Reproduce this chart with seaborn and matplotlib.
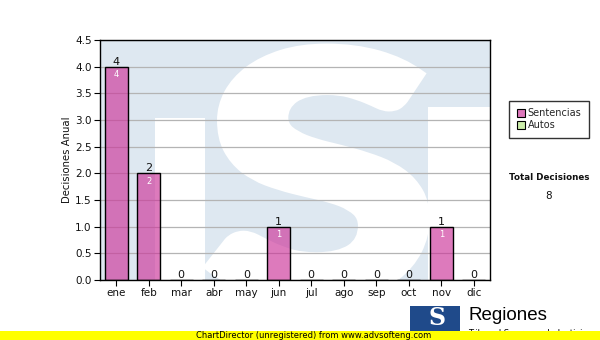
import numpy as np
import pandas as pd
import matplotlib
matplotlib.use("Agg")
import matplotlib.pyplot as plt
import seaborn as sns
from matplotlib.patches import Rectangle, PathPatch
from matplotlib.textpath import TextPath
from matplotlib.font_manager import FontProperties
from matplotlib.transforms import Affine2D
from matplotlib.lines import Line2D

meses = ["ene", "feb", "mar", "abr", "may", "jun", "jul", "ago", "sep", "oct", "nov", "dic"]
sentencias = [4, 2, 0, 0, 0, 1, 0, 0, 0, 0, 1, 0]
autos = [0, 0, 0, 0, 0, 0, 0, 0, 0, 0, 0, 0]
series_names = ["Sentencias", "Autos"]
total_label = "Total Decisiones"
y_label = "Decisiones Anual"

sns.set_theme(style="white")
plt.rcParams["font.family"] = ["DejaVu Sans"]

W, H = 600, 340
fig = plt.figure(figsize=(W / 100, H / 100), dpi=100)
fig.patch.set_facecolor("white")

def fx(px):
    return px / W

def fy(py):
    return 1 - py / H

L, R, T, B = 100, 490, 40, 280
ax = fig.add_axes([fx(L), fy(B), fx(R) - fx(L), fy(T) - fy(B)])
ax.set_facecolor("white")

# watermark (light blue logo)
lb = "#dee8f1"
ax.add_patch(Rectangle((0, 0), 1, 1, transform=ax.transAxes, facecolor=lb, edgecolor="none", zorder=0.1))
ax.add_patch(Rectangle((0.141, 0), 0.128, 0.675, transform=ax.transAxes, facecolor="white", edgecolor="none", zorder=0.15))
ax.add_patch(Rectangle((0.84, 0), 0.16, 0.72, transform=ax.transAxes, facecolor="white", edgecolor="none", zorder=0.15))
tp = TextPath((0, 0), "S", size=1, prop=FontProperties(family=["Lato", "Roboto", "DejaVu Sans"], weight=900))
ext = tp.get_extents()
pad_x, pad_y = 0.014, 0.023
x0, x1 = 0.269 + pad_x, 0.845 - pad_x
y0, y1 = -0.10 + pad_y, 0.985 - pad_y
tr = Affine2D().translate(-ext.x0, -ext.y0).scale((x1 - x0) / ext.width, (y1 - y0) / ext.height).translate(x0, y0)
spath = tr.transform_path(tp)
sp = PathPatch(spath, transform=ax.transAxes, facecolor="white", edgecolor="white",
               linewidth=8, joinstyle="miter", zorder=0.2)
ax.add_patch(sp)
sp.set_clip_path(Rectangle((0, 0), 1, 1, transform=ax.transAxes))

df = pd.DataFrame({"mes": meses, "Sentencias": sentencias, "Autos": autos})
pink = "#cc3399"
green = "#cceeaa"
sns.barplot(data=df, x="mes", y="Sentencias", color=pink, saturation=1, width=0.71,
            edgecolor="black", linewidth=1.0, ax=ax, zorder=2, order=meses)
rgb = matplotlib.colors.to_rgb(pink)
for p in ax.patches:
    if isinstance(p, matplotlib.patches.Rectangle) and p.get_zorder() == 2:
        p.set_facecolor((*rgb, 0.65))

ax.set_ylim(0, 4.5)
ax.set_xlim(-0.5, len(meses) - 0.5)
ax.set_yticks(np.arange(0, 4.51, 0.5))
ax.set_yticklabels([f"{v:.1f}" for v in np.arange(0, 4.51, 0.5)])
ax.yaxis.grid(True, color="#b4b4b4", linewidth=0.9, zorder=0.5)
ax.xaxis.grid(False)
ax.set_axisbelow(True)
for s in ax.spines.values():
    s.set_color("black")
    s.set_linewidth(1.0)
    s.set_visible(True)
ax.tick_params(axis="both", direction="out", length=4, width=0.8, color="black",
               labelsize=7.5, labelcolor="#111111", pad=2,
               bottom=True, left=True)
ax.set_xlabel("")
ax.set_ylabel(y_label, fontsize=7.3, color="#111111", labelpad=2)

totals = [s + a for s, a in zip(sentencias, autos)]
for i, (s, t) in enumerate(zip(sentencias, totals)):
    ax.annotate(f"{t}", (i, t), xytext=(0, 0), textcoords="offset points",
                ha="center", va="bottom", fontsize=8, color="#111111", zorder=5)
    if s > 0:
        ax.annotate(f"{s}", (i, s), xytext=(0, -2.5), textcoords="offset points",
                    ha="center", va="top", fontsize=6, color="white", zorder=5)

# legend
handles = [Line2D([], [], marker="s", linestyle="none", markersize=6, markerfacecolor="#dd77bb",
                  markeredgecolor="black", markeredgewidth=0.8),
           Line2D([], [], marker="s", linestyle="none", markersize=6, markerfacecolor=green,
                  markeredgecolor="black", markeredgewidth=0.8)]
leg = fig.legend(handles, series_names, loc="upper left", bbox_to_anchor=(fx(509), fy(101)),
                 frameon=True, fancybox=False, shadow=False, fontsize=7, borderpad=0.75,
                 handletextpad=0.15, handlelength=1.0, labelspacing=0.2, borderaxespad=0)
leg.get_frame().set_edgecolor("black")
leg.get_frame().set_linewidth(1.0)

fig.text(fx(549), fy(177), total_label, ha="center", va="center", fontsize=6.3, fontweight="bold", color="#111111")
fig.text(fx(549), fy(196), f"{sum(totals)}", ha="center", va="center", fontsize=7.5, color="#111111")

# logo
fig.patches.append(Rectangle((fx(410), fy(332)), fx(50), fy(306) - fy(332), transform=fig.transFigure,
                             facecolor="#1f4a8a", edgecolor="none", zorder=1))
fig.text(fx(437), fy(318), "S", ha="center", va="center", fontsize=17, fontweight="bold",
         color="white", family="DejaVu Serif", zorder=2)
fig.text(fx(468), fy(316), "Regiones", ha="left", va="center", fontsize=13.5,
         family="Liberation Sans", color="black", zorder=2)
fig.text(fx(468), fy(333), "Tribunal Supremo de Justicia", ha="left", va="center", fontsize=6,
         color="black", zorder=1)

# yellow band
fig.patches.append(Rectangle((0, 0), 1, fy(331), transform=fig.transFigure,
                             facecolor="#ffff00", edgecolor="none", zorder=3))
fig.text(fx(314), fy(335.5), "ChartDirector (unregistered) from www.advsofteng.com", ha="center",
         va="center", fontsize=6, color="black", zorder=4)

fig.savefig("out.png", dpi=100)
